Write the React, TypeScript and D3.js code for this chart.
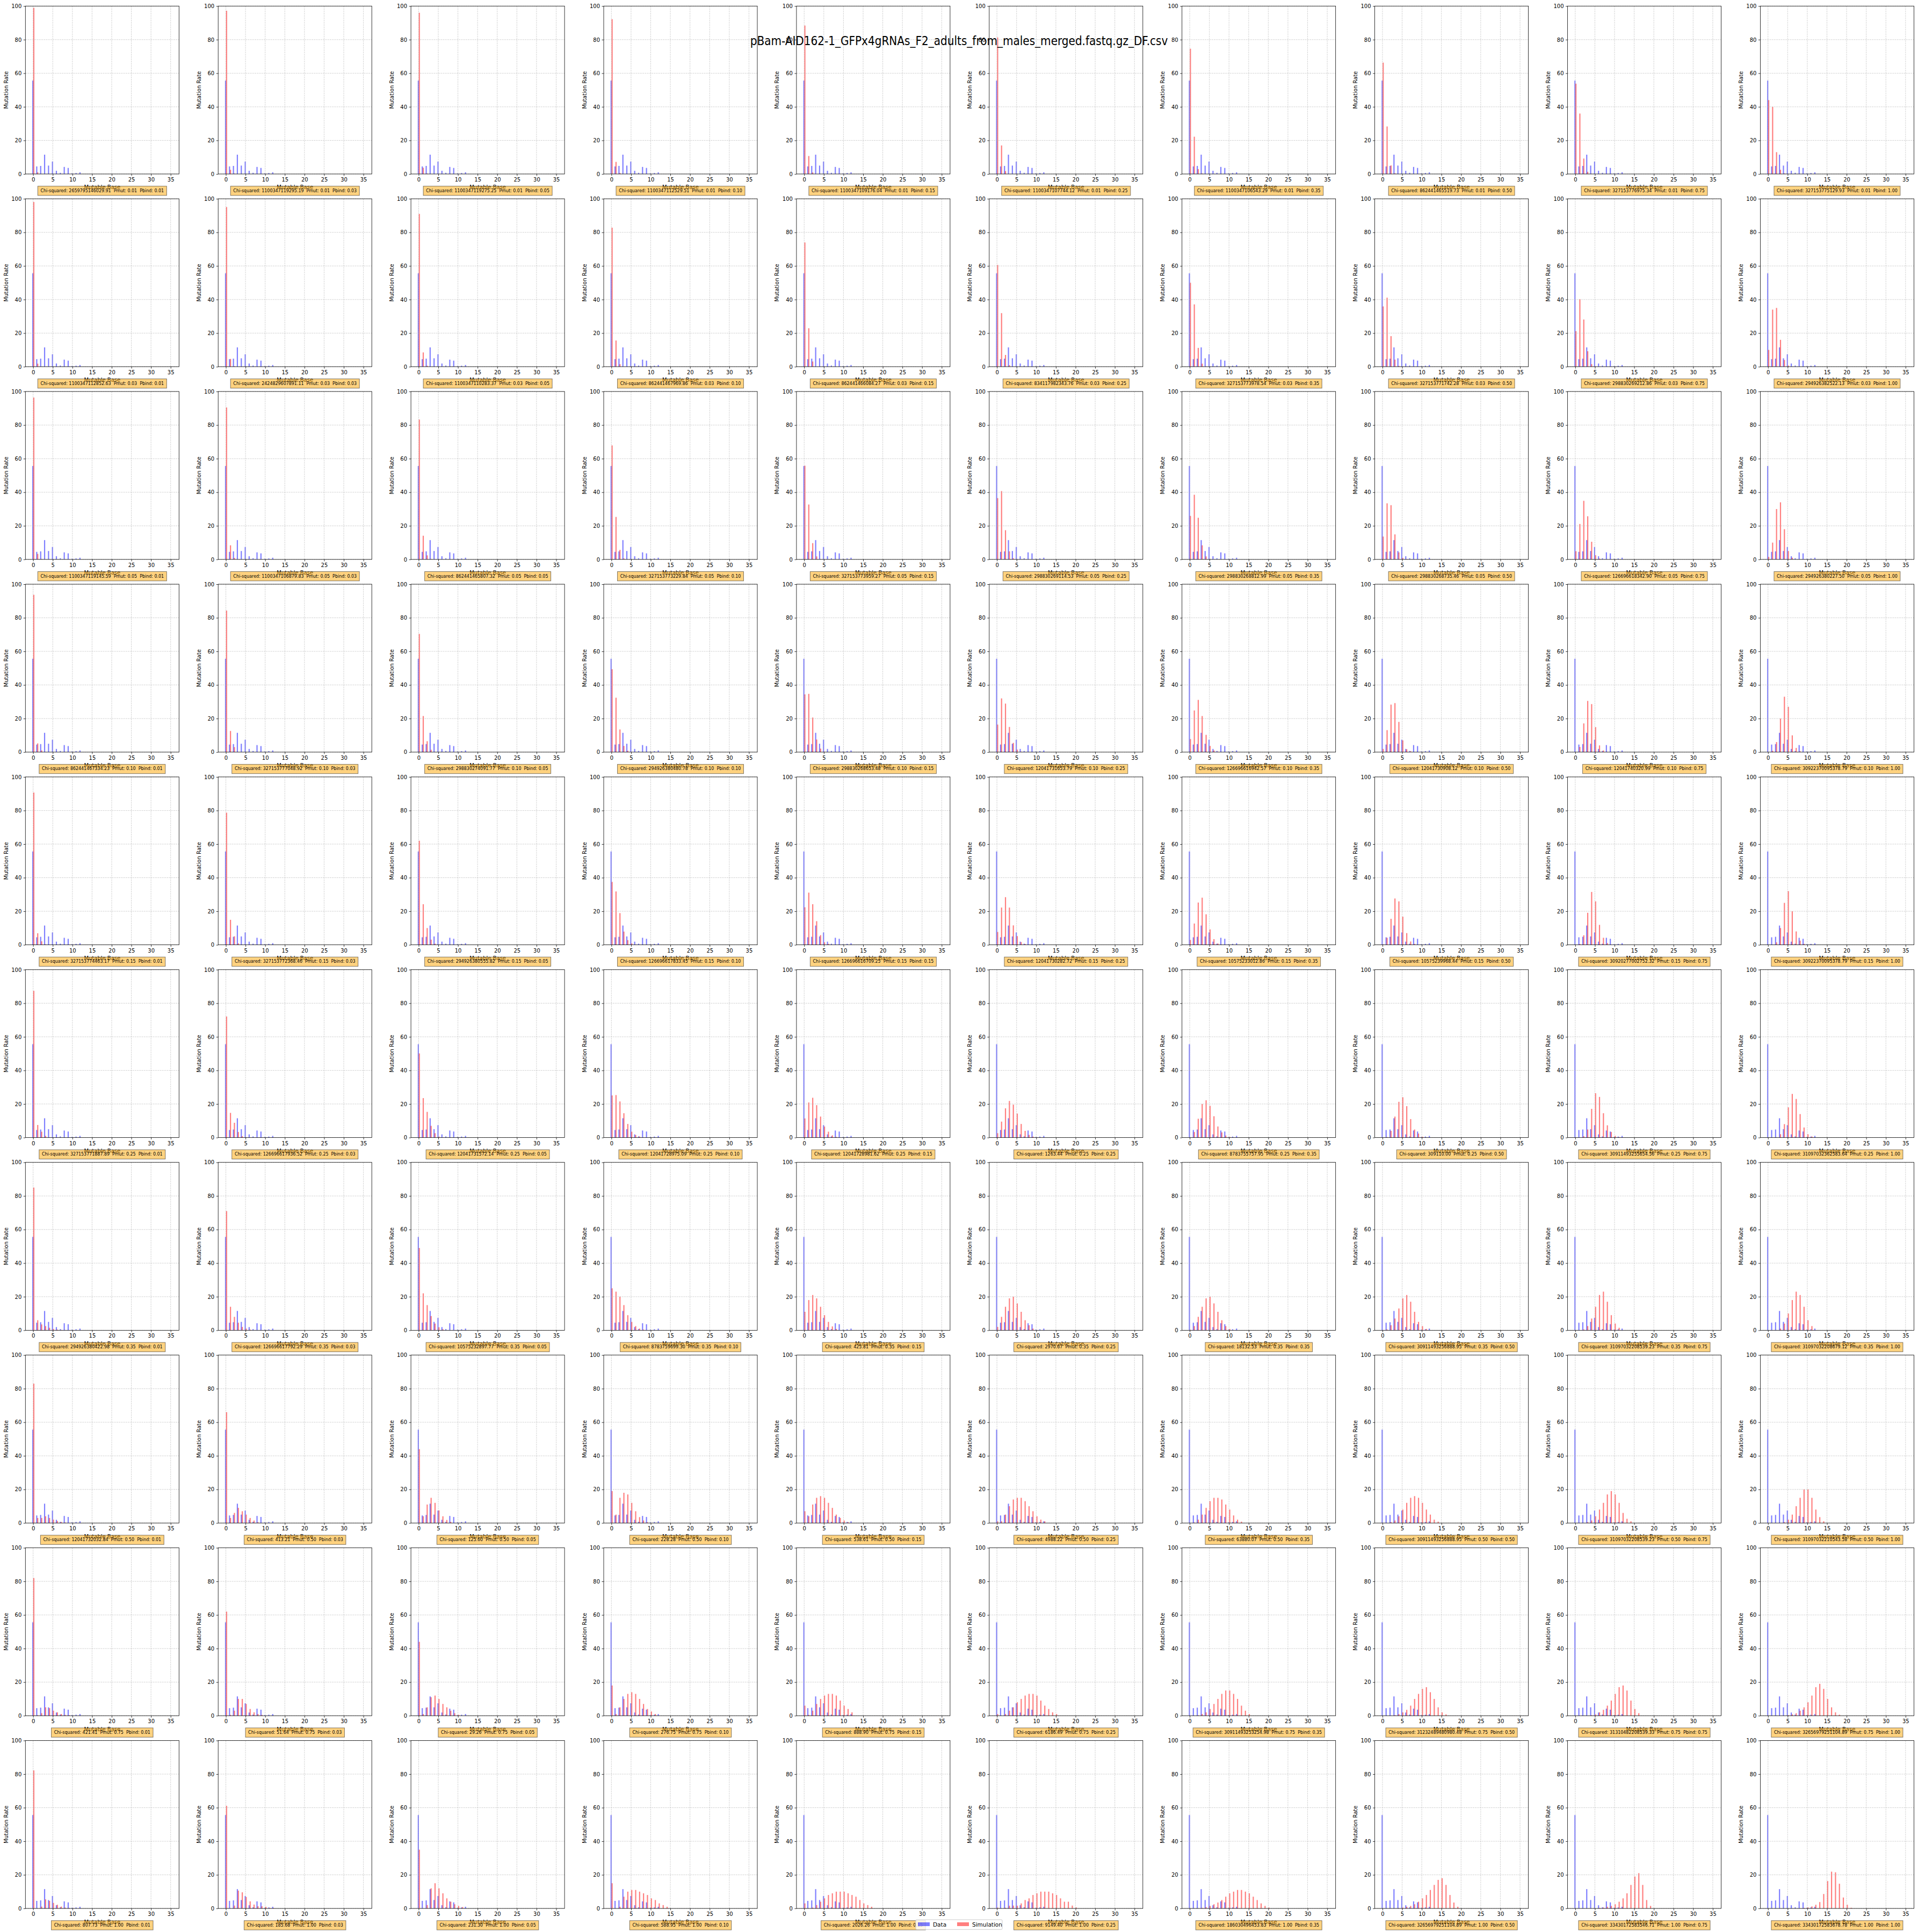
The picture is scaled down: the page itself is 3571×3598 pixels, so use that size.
import { useEffect, useRef } from 'react';
import * as d3 from 'd3';

const FIG_W = 3571;
const FIG_H = 3598;

const figTitle = 'pBam-AID162-1_GFPx4gRNAs_F2_adults_from_males_merged.fastq.gz_DF.csv';
const pmutLabels = ['0.01', '0.03', '0.05', '0.10', '0.15', '0.25', '0.35', '0.50', '0.75', '1.00'];
const pbindLabels = ['0.01', '0.03', '0.05', '0.10', '0.15', '0.25', '0.35', '0.50', '0.75', '1.00'];
const xTicks = [0, 5, 10, 15, 20, 25, 30, 35];
const yTicks = [0, 20, 40, 60, 80, 100];
const mutableBases = d3.range(0, 36);

// observed data (same in every panel), from base 0; later bases are 0
const dataRate = [55.6, 4.5, 4.8, 11.5, 5.0, 7.4, 1.9, 0.7, 4.2, 3.6, 0.4, 0.6, 1.0];

// simulation, one list per Pbind column, values from base 0
const simPmut001 = [
  [99.0, 1.0],
  [97.2, 2.5, 0.3],
  [96.0, 3.7, 0.3],
  [92.2, 7.2, 0.6],
  [88.4, 10.7, 0.9],
  [81.3, 17.0, 1.7],
  [74.6, 22.2, 2.9, 0.3],
  [66.3, 28.3, 5.1, 0.4],
  [53.8, 36.0, 9.2, 1.3, 0.1],
  [44.0, 40.0, 13.0, 2.5, 0.4],
];
const simPmut003 = [
  [98.1, 1.8],
  [95.1, 4.6, 0.3],
  [91.0, 8.5, 0.6],
  [82.8, 15.6, 1.5],
  [74.0, 22.9, 3.1],
  [60.6, 31.9, 7.0, 0.9],
  [50.0, 37.1, 11.2, 1.8, 0.2],
  [35.9, 41.1, 18.2, 4.2, 0.5],
  [21.2, 40.2, 28.1, 9.2, 1.5, 0.2],
  [10.0, 34.0, 35.0, 16.0, 4.0, 0.7],
];
const simPmut005 = [
  [96.4, 3.3, 0.3],
  [90.5, 8.4, 0.9],
  [83.3, 14.1, 2.4, 0.3],
  [67.9, 25.3, 5.7, 0.6],
  [55.8, 32.7, 9.7, 1.8, 0.2],
  [36.5, 40.7, 17.4, 4.8, 0.7],
  [25.9, 38.5, 24.8, 8.4, 1.8, 0.3],
  [13.6, 33.4, 32.3, 14.9, 4.2, 0.9, 0.2],
  [4.9, 21.1, 34.9, 25.7, 10.5, 2.5, 0.5],
  [1.5, 10.0, 30.0, 34.0, 18.0, 5.0, 1.0],
];
const simPmut010 = [
  [93.7, 5.2, 1.0, 0.1],
  [84.3, 12.6, 3.0, 0.2],
  [70.4, 21.5, 6.5, 1.4, 0.2],
  [49.4, 32.4, 13.5, 3.7, 0.8, 0.1],
  [34.4, 34.7, 20.6, 7.5, 2.1, 0.3],
  [16.4, 32.0, 28.9, 15.0, 5.5, 1.5, 0.3],
  [7.8, 24.8, 31.1, 21.5, 10.3, 3.7, 1.0, 0.3],
  [1.9, 13.1, 28.3, 29.2, 18.0, 7.0, 1.7, 0.5],
  [0, 3.1, 17.1, 30.5, 28.6, 14.9, 4.0, 1.0, 0.2],
  [0, 0.8, 6.0, 20.0, 33.0, 27.0, 10.0, 2.5, 0.5],
];
const simPmut015 = [
  [90.7, 6.9, 2.1, 0.3],
  [78.7, 14.9, 5.1, 0.9, 0.2],
  [62.0, 24.2, 10.0, 3.1, 0.7],
  [37.5, 31.8, 18.9, 7.9, 2.8, 0.9, 0.2],
  [22.4, 31.1, 24.2, 14.1, 5.8, 1.5, 0.6, 0.1],
  [7.7, 22.2, 28.4, 22.2, 11.6, 5.2, 1.6, 0.5],
  [2.9, 12.7, 25.2, 28.1, 18.2, 9.2, 3.4, 0.8, 0.2],
  [0.3, 4.2, 15.5, 27.6, 25.9, 16.8, 7.0, 2.0, 0.6],
  [0, 0.5, 5.7, 19.1, 31.5, 25.9, 11.9, 4.2, 1.1, 0.2],
  [0, 0, 1.5, 10.0, 25.0, 32.0, 20.0, 8.0, 2.5, 0.6],
];
const simPmut025 = [
  [87.4, 7.5, 3.5, 1.0, 0.2],
  [72.1, 14.7, 8.8, 3.3, 0.8, 0.2],
  [50.1, 23.5, 15.3, 7.0, 2.6, 0.6],
  [25.1, 25.3, 21.5, 14.5, 8.1, 3.5, 1.5, 0.6, 0.1],
  [11.4, 20.9, 23.7, 19.3, 12.5, 6.6, 3.5, 1.3, 0.4, 0.1],
  [2.6, 9.5, 17.4, 21.8, 19.6, 14.3, 8.1, 4.0, 1.6, 0.6, 0.2],
  [0, 3.3, 11.2, 20.0, 22.2, 18.9, 12.7, 6.6, 3.1, 1.2, 0.4, 0.1],
  [0, 0.3, 4.0, 12.5, 21.3, 24.0, 18.7, 11.0, 4.8, 2.4, 0.5, 0.2],
  [0, 0, 0.8, 4.8, 17.1, 26.4, 24.2, 14.5, 7.3, 3.3, 1.0, 0.3],
  [0, 0, 0.2, 2.0, 8.0, 18.0, 26.0, 23.0, 14.0, 6.0, 2.0, 0.6],
];
const simPmut035 = [
  [85.0, 6.0, 3.5, 2.5, 1.5, 0.8, 0.4, 0.2],
  [71.0, 14.0, 8.0, 4.5, 2.0, 1.0, 0.4],
  [49.0, 22.0, 15.0, 8.5, 4.0, 1.8, 0.6],
  [25.0, 23.0, 20.0, 15.0, 9.0, 5.0, 2.5, 1.0, 0.4],
  [11.0, 18.0, 21.0, 19.0, 14.0, 9.0, 5.0, 2.3, 0.8],
  [2.0, 8.0, 14.0, 19.0, 20.0, 16.0, 11.0, 6.0, 3.0, 1.0],
  [0.3, 2.5, 8.0, 14.0, 19.0, 20.0, 16.0, 11.0, 6.0, 2.5, 0.8],
  [0, 0.5, 3.0, 7.0, 13.0, 19.0, 21.0, 17.0, 11.0, 5.0, 2.5, 0.8],
  [0, 0, 0.5, 2.5, 7.0, 14.0, 21.0, 23.0, 17.0, 9.0, 4.0, 1.5],
  [0, 0, 0, 1.0, 4.0, 10.0, 18.0, 23.0, 21.0, 14.0, 6.0, 2.5],
];
const simPmut050 = [
  [83.0, 3.0, 3.0, 4.0, 3.0, 2.0, 1.2, 0.6, 0.3],
  [66.0, 3.0, 6.0, 9.0, 7.0, 5.0, 3.0, 1.5, 0.5],
  [44.0, 4.0, 11.0, 15.0, 12.0, 7.5, 4.0, 1.8, 0.7],
  [19.0, 5.0, 15.0, 18.0, 17.0, 12.0, 7.0, 3.5, 1.5, 0.5],
  [7.0, 4.0, 11.0, 15.0, 16.0, 15.0, 12.0, 9.0, 5.0, 3.0, 1.5, 0.5],
  [1.0, 1.0, 5.0, 10.0, 14.0, 15.0, 15.0, 13.0, 10.0, 7.0, 4.0, 2.0, 1.0],
  [0, 0.3, 2.0, 5.0, 9.0, 13.0, 15.0, 15.0, 14.0, 11.0, 8.0, 4.5, 2.0, 0.8],
  [0, 0, 0.5, 1.5, 4.0, 8.0, 12.0, 15.0, 16.0, 15.0, 12.0, 8.0, 5.0, 2.0, 0.8],
  [0, 0, 0, 0.5, 1.5, 4.0, 8.0, 12.0, 17.0, 19.0, 17.0, 12.0, 6.0, 2.5, 1.0],
  [0, 0, 0, 0, 0.5, 2.0, 5.0, 10.0, 15.0, 20.0, 20.0, 15.0, 8.0, 3.5, 1.0],
];
const simPmut075 = [
  [82.0, 0.3, 1.5, 5.0, 4.5, 3.0, 2.0, 1.0, 0.5, 0.3],
  [62.0, 0.5, 3.0, 10.0, 10.0, 7.0, 4.0, 2.0, 1.0, 0.5],
  [44.0, 1.0, 5.0, 11.0, 12.0, 10.0, 7.0, 5.0, 3.0, 1.5, 0.5],
  [18.0, 1.0, 5.0, 10.0, 13.0, 14.0, 13.0, 10.0, 7.0, 4.0, 2.5, 1.0],
  [6.0, 0.5, 3.0, 7.0, 10.0, 12.0, 13.0, 13.0, 12.0, 9.0, 6.0, 4.0, 2.0],
  [1.0, 0, 1.0, 3.0, 5.0, 8.0, 10.0, 12.0, 13.0, 13.0, 12.0, 9.0, 6.0, 4.0, 2.0, 1.0],
  [0, 0, 0.2, 1.0, 2.0, 4.0, 7.0, 10.0, 13.0, 15.0, 15.0, 13.0, 10.0, 6.0, 3.0, 1.0],
  [0, 0, 0, 0.3, 1.0, 2.0, 3.5, 6.0, 10.0, 13.0, 16.0, 17.0, 14.0, 10.0, 5.0, 2.0, 0.8],
  [0, 0, 0, 0, 0.3, 0.8, 2.0, 3.5, 6.0, 9.0, 13.0, 17.0, 18.0, 15.0, 9.0, 4.0, 1.5],
  [0, 0, 0, 0, 0, 0.3, 0.8, 1.5, 3.0, 5.0, 8.0, 12.0, 17.0, 19.0, 16.0, 10.0, 5.0, 2.0, 0.6],
];
const simPmut100 = [
  [82.2, 0, 1.1, 5.4, 4.5, 3.3, 2.2, 1.1, 0.5, 0.3, 0.1],
  [61.1, 0, 1.7, 10.6, 9.6, 6.8, 4.2, 2.3, 1.3, 1.3, 1.0, 0.3, 0.2],
  [35.0, 0, 2.0, 12.0, 15.0, 12.0, 9.0, 6.0, 4.0, 2.5, 1.5, 0.8],
  [15.0, 0, 1.0, 7.0, 10.0, 11.0, 11.0, 10.0, 9.0, 8.0, 6.0, 5.0, 3.0, 2.0, 1.0],
  [3.0, 0, 0.5, 2.0, 4.0, 6.0, 8.0, 9.0, 10.0, 10.0, 10.0, 9.0, 8.0, 7.0, 5.0, 3.0, 2.0, 1.0],
  [0.5, 0, 0.4, 1.6, 1.7, 1.6, 3.0, 5.0, 6.0, 8.0, 9.0, 10.0, 10.0, 10.0, 9.0, 8.0, 6.0, 4.0, 4.0, 1.7, 0.6],
  [0, 0, 0, 0.3, 0.8, 1.5, 2.5, 3.5, 5.0, 7.0, 9.0, 10.0, 11.0, 11.0, 10.0, 9.0, 7.0, 5.0, 3.0, 1.5, 0.5],
  [0, 0, 0, 0, 0.2, 0.5, 1.0, 1.5, 2.5, 4.0, 6.0, 8.0, 11.0, 14.0, 17.0, 18.0, 14.0, 8.0, 3.5, 1.0],
  [0, 0, 0, 0, 0, 0, 0.3, 0.5, 1.0, 1.5, 2.5, 4.0, 6.0, 9.0, 14.0, 19.0, 21.0, 14.0, 5.0, 1.5],
  [0, 0, 0, 0, 0, 0, 0, 0, 0, 0.3, 0.6, 1.2, 2.2, 3.8, 8.6, 16.3, 21.9, 21.5, 14.7, 6.5, 2.2, 0.4],
];
const simulationByPmut = [
  simPmut001, simPmut003, simPmut005, simPmut010, simPmut015,
  simPmut025, simPmut035, simPmut050, simPmut075, simPmut100,
];

// chi-squared printed in each panel box
const chiPmut001 = ['2659795146029.91', '1100347119295.19', '1100347119275.25', '1100347112529.51', '1100347109176.04', '1100347107744.12', '1100347106543.29', '862441465519.73', '327153776975.34', '327153775129.93'];
const chiPmut003 = ['1100347112852.63', '2424829607891.11', '1100347110283.37', '862441467969.86', '862441466084.27', '834117982343.76', '327153773978.54', '327153771742.28', '298830269212.86', '294926382522.13'];
const chiPmut005 = ['1100347119145.59', '1100347106879.83', '862441465807.32', '327153773229.84', '327153773959.27', '298830269114.53', '298830268812.99', '298830268735.46', '126696618342.90', '294926380227.50'];
const chiPmut010 = ['862441467334.23', '327153777048.92', '298830274091.77', '294926380480.78', '298830268653.48', '12041731653.79', '126696616942.57', '12041730908.12', '12041740320.99', '30922370095378.79'];
const chiPmut015 = ['327153774463.17', '327153772368.46', '294926380555.82', '126696617833.45', '126696616709.25', '12041730282.72', '10575233012.86', '10575239968.44', '30920277002752.32', '30922370095378.79'];
const chiPmut025 = ['327153771887.89', '126696617936.52', '12041731572.14', '12041728975.09', '12041728981.62', '1263.44', '8783755757.95', '309110.00', '30911493255654.56', '31097032362583.64'];
const chiPmut035 = ['294926380422.98', '126696617792.29', '10575232897.77', '8783759699.30', '425.81', '2970.67', '18132.53', '30911493256888.95', '31097032208539.23', '31097032208679.12'];
const chiPmut050 = ['12041732032.84', '413.21', '125.60', '228.28', '538.61', '4988.22', '63880.07', '30911493256888.95', '31097032208539.23', '31097032210543.58'];
const chiPmut075 = ['421.41', '51.64', '29.26', '276.75', '888.90', '6186.49', '30911493253254.98', '31232489480980.48', '31310482208539.33', '32656979251104.89'];
const chiPmut100 = ['807.73', '185.68', '231.30', '588.95', '2026.26', '9149.40', '186030496453.83', '32656979251104.89', '33430172583546.71', '33430172583678.78'];
const chiByPmut = [
  chiPmut001, chiPmut003, chiPmut005, chiPmut010, chiPmut015,
  chiPmut025, chiPmut035, chiPmut050, chiPmut075, chiPmut100,
];

// grid geometry (pixels)
const AX_LEFT = 47.3;
const AX_TOP = 11.3;
const PITCH = 358.9;
const AX_W = 286;
const AX_H = 312.7;
const FONT = "'DejaVu Sans', sans-serif";

export default function App() {
  const svgRef = useRef<SVGSVGElement>(null);

  useEffect(() => {
    if (!svgRef.current) return;
    const svg = d3.select(svgRef.current);
    svg.selectAll('*').remove();

    svg.append('rect').attr('width', FIG_W).attr('height', FIG_H).attr('fill', '#ffffff');

    const colX = d3.scaleLinear().domain([0, 9]).range([AX_LEFT, AX_LEFT + 9 * PITCH]);
    const rowY = d3.scaleLinear().domain([0, 9]).range([AX_TOP, AX_TOP + 9 * PITCH]);
    const x = d3.scaleLinear().domain([-1.96, 37.13]).range([0, AX_W]);
    const y = d3.scaleLinear().domain([0, 100]).range([AX_H, 0]);
    const barW = x(0.3) - x(0);

    const xAxis = d3.axisBottom(x).tickValues(xTicks).tickSize(3.5).tickPadding(3.5);
    const yAxis = d3.axisLeft(y).tickValues(yTicks).tickSize(3.5).tickPadding(3.5);

    let annoStretch = 1;

    pmutLabels.forEach((pmut, r) => {
      pbindLabels.forEach((pbind, c) => {
        const g = svg.append('g').attr('transform', `translate(${colX(c)},${rowY(r)})`);
        const sim = simulationByPmut[r][c];

        // Data bars
        g.append('g')
          .selectAll('rect')
          .data(mutableBases.filter((b) => (dataRate[b] ?? 0) > 0))
          .join('rect')
          .attr('x', (b) => x(b - 0.225))
          .attr('width', barW)
          .attr('y', (b) => y(dataRate[b]))
          .attr('height', (b) => AX_H - y(dataRate[b]))
          .attr('fill', 'blue')
          .attr('fill-opacity', 0.5);

        // Simulation bars
        g.append('g')
          .selectAll('rect')
          .data(mutableBases.filter((b) => (sim[b] ?? 0) > 0))
          .join('rect')
          .attr('x', (b) => x(b + 0.025))
          .attr('width', barW)
          .attr('y', (b) => y(sim[b]))
          .attr('height', (b) => AX_H - y(sim[b]))
          .attr('fill', 'red')
          .attr('fill-opacity', 0.5);

        // dashed grid (drawn above the bars, as in the original)
        const grid = g.append('g')
          .attr('stroke', '#b0b0b0')
          .attr('stroke-opacity', 0.7)
          .attr('stroke-width', 0.8)
          .attr('stroke-dasharray', '2.96,1.28');
        grid.selectAll('line.v').data(xTicks).join('line')
          .attr('class', 'v')
          .attr('x1', (d) => x(d)).attr('x2', (d) => x(d))
          .attr('y1', 0).attr('y2', AX_H);
        grid.selectAll('line.h').data(yTicks).join('line')
          .attr('class', 'h')
          .attr('x1', 0).attr('x2', AX_W)
          .attr('y1', (d) => y(d)).attr('y2', (d) => y(d));

        // axes
        const gx = g.append('g').attr('transform', `translate(0,${AX_H})`).call(xAxis);
        const gy = g.append('g').call(yAxis);
        [gx, gy].forEach((ax) => {
          ax.select('.domain').remove();
          ax.selectAll('line').attr('stroke', '#000').attr('stroke-width', 0.8);
          ax.selectAll('text').attr('font-family', FONT).attr('font-size', 10).attr('fill', '#000');
        });

        g.append('rect')
          .attr('width', AX_W).attr('height', AX_H)
          .attr('fill', 'none').attr('stroke', '#000').attr('stroke-width', 0.8);

        g.append('text')
          .attr('transform', `translate(-32.5,${AX_H / 2}) rotate(-90)`)
          .attr('text-anchor', 'middle')
          .attr('font-family', FONT).attr('font-size', 10)
          .text('Mutation Rate');

        g.append('text')
          .attr('x', AX_W / 2).attr('y', AX_H + 28.5)
          .attr('text-anchor', 'middle')
          .attr('font-family', FONT).attr('font-size', 10)
          .text('Mutable Base');

        // annotation box
        const label = `Chi-squared: ${chiByPmut[r][c]}  Pmut: ${pmut}  Pbind: ${pbind}`;
        const box = g.append('rect');
        const t = g.append('text')
          .attr('text-anchor', 'middle')
          .attr('font-family', FONT).attr('font-size', 9.6)
          .attr('fill', '#000')
          .attr('xml:space', 'preserve')
          .style('white-space', 'pre')
          .text(label);
        const natural = (t.node() as SVGTextElement).getComputedTextLength();
        if (r === 0 && c === 0) annoStretch = 230 / natural;
        t.attr('transform', `translate(${AX_W / 2},${AX_H + 33.7}) scale(${annoStretch},1)`);
        const tw = natural * annoStretch;
        box
          .attr('x', AX_W / 2 - tw / 2 - 5).attr('width', tw + 10)
          .attr('y', AX_H + 22.7).attr('height', 17.3)
          .attr('fill', 'orange').attr('fill-opacity', 0.5)
          .attr('stroke', '#000').attr('stroke-opacity', 0.5).attr('stroke-width', 1);
      });
    });

    // figure title
    const title = svg.append('text')
      .attr('text-anchor', 'middle')
      .attr('font-family', FONT).attr('font-size', 23)
      .attr('fill', '#000')
      .text(figTitle);
    const titleW = (title.node() as SVGTextElement).getComputedTextLength();
    title.attr('transform', `translate(${FIG_W / 2},84) scale(${778 / titleW},1)`);

    // legend at lower centre
    const lg = svg.append('g').attr('transform', 'translate(1705,3575)');
    lg.append('rect')
      .attr('width', 161).attr('height', 18.3).attr('rx', 2)
      .attr('fill', '#fff').attr('fill-opacity', 0.8)
      .attr('stroke', '#cccccc').attr('stroke-width', 1);
    const entries = [
      { name: 'Data', color: 'blue', px: 4, tx: 32 },
      { name: 'Simulation', color: 'red', px: 77, tx: 105 },
    ];
    entries.forEach((e) => {
      lg.append('rect')
        .attr('x', e.px).attr('y', 5).attr('width', 22).attr('height', 7)
        .attr('fill', e.color).attr('fill-opacity', 0.5);
      lg.append('text')
        .attr('x', e.tx).attr('y', 12.7)
        .attr('font-family', FONT).attr('font-size', 10.5)
        .text(e.name);
    });
  }, []);

  return (
    <svg
      ref={svgRef}
      width={FIG_W}
      height={FIG_H}
      viewBox={`0 0 ${FIG_W} ${FIG_H}`}
      style={{ position: 'absolute', left: 0, top: 0, display: 'block' }}
    />
  );
}
